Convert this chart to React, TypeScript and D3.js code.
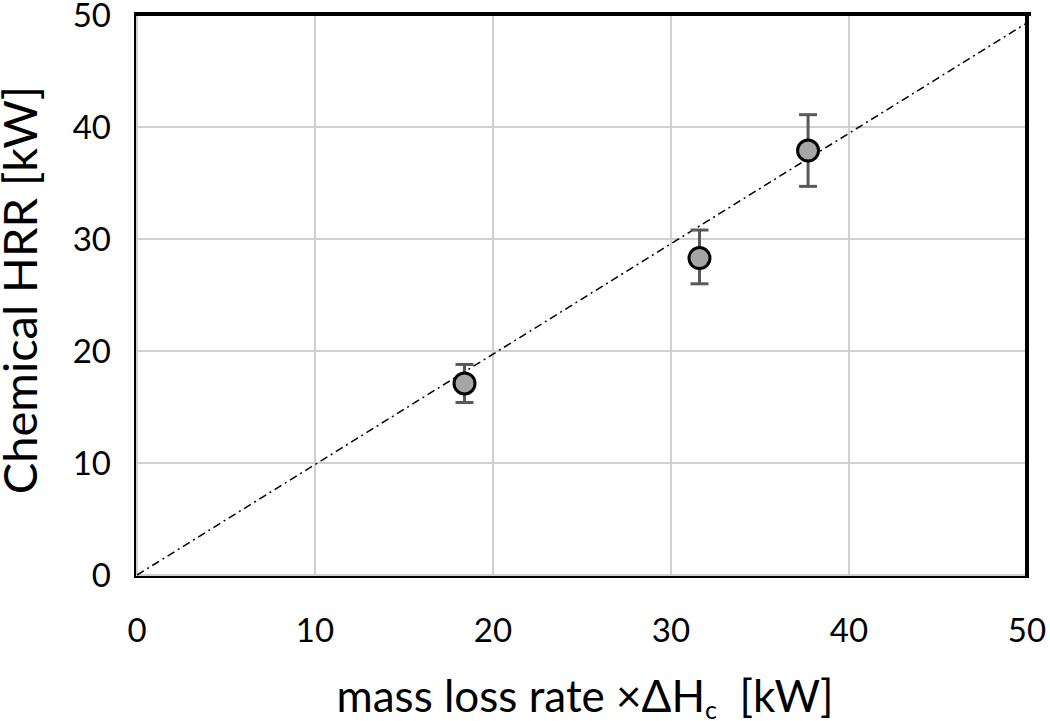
import React from "react";
import * as d3 from "d3";

const xTicks = [0, 10, 20, 30, 40, 50];
const yTicks = [0, 10, 20, 30, 40, 50];
const pointsX = [18.4, 31.6, 37.7];
const pointsY = [17.1, 28.3, 37.9];
const errLow = [15.4, 26.0, 34.7];
const errHigh = [18.8, 30.8, 41.1];
const refLineX = [0, 50];
const refLineY = [0, 49.3];

const W = 1050, H = 721;
const L = 137, R = 1027, T = 15, B = 575;

export default function App() {
  const x = d3.scaleLinear().domain([0, 50]).range([L, R]);
  const y = d3.scaleLinear().domain([0, 50]).range([B, T]);
  const line = d3.line<number>().x((d, i) => x(refLineX[i])).y((d, i) => y(refLineY[i]));
  const font = "Lato, 'Open Sans', sans-serif";
  return (
    <svg width={W} height={H} style={{ position: "absolute", left: 0, top: 0 }}>
      <rect x={0} y={0} width={W} height={H} fill="#fff" />
      {xTicks.map((t) => (
        <line key={"gx" + t} x1={x(t)} x2={x(t)} y1={T} y2={B} stroke="#d0d0d0" strokeWidth={2} />
      ))}
      {yTicks.map((t) => (
        <line key={"gy" + t} x1={L} x2={R} y1={y(t)} y2={y(t)} stroke="#d0d0d0" strokeWidth={2} />
      ))}
      {/* frame */}
      <line x1={L - 2} x2={L - 2} y1={T - 2} y2={B + 2} stroke="#000" strokeWidth={2} />
      <line x1={L - 3} x2={R} y1={B + 2} y2={B + 2} stroke="#000" strokeWidth={2} />
      <line x1={L - 3} x2={R + 4} y1={T - 1} y2={T - 1} stroke="#000" strokeWidth={4} />
      <line x1={R} x2={R} y1={T - 3} y2={B + 3} stroke="#000" strokeWidth={4} />
      {/* reference line */}
      <path d={line(refLineX) || ""} fill="none" stroke="#000" strokeWidth={1.5} strokeDasharray="8,4,2,4" />
      {/* error bars */}
      {pointsX.map((px, i) => (
        <g key={"e" + i} stroke="#595959" strokeWidth={3}>
          <line x1={x(px)} x2={x(px)} y1={y(errLow[i])} y2={y(errHigh[i])} />
          <line x1={x(px) - 9} x2={x(px) + 9} y1={y(errLow[i])} y2={y(errLow[i])} />
          <line x1={x(px) - 9} x2={x(px) + 9} y1={y(errHigh[i])} y2={y(errHigh[i])} />
        </g>
      ))}
      {pointsX.map((px, i) => (
        <circle key={"p" + i} cx={x(px)} cy={y(pointsY[i])} r={10.5} fill="#a6a6a6" stroke="#000" strokeWidth={3} />
      ))}
      {xTicks.map((t) => (
        <text key={"tx" + t} x={x(t)} y={642} textAnchor="middle" fontFamily={font} fontSize={33} fill="#000">
          {t}
        </text>
      ))}
      {yTicks.map((t) => (
        <text key={"ty" + t} x={111} y={y(t)} dy="0.36em" textAnchor="end" fontFamily={font} fontSize={33} fill="#000">
          {t}
        </text>
      ))}
      <text x={585} y={712} textAnchor="middle" fontFamily={font} fontSize={44} fill="#000">
        mass loss rate ×ΔH<tspan fontSize={25} dy={7}>c</tspan><tspan dy={-7}>{"\u00a0 [kW]"}</tspan>
      </text>
      <text transform={`translate(37, 290) rotate(-90)`} textAnchor="middle" fontFamily={font} fontSize={47} fill="#000">
        Chemical HRR [kW]
      </text>
    </svg>
  );
}
